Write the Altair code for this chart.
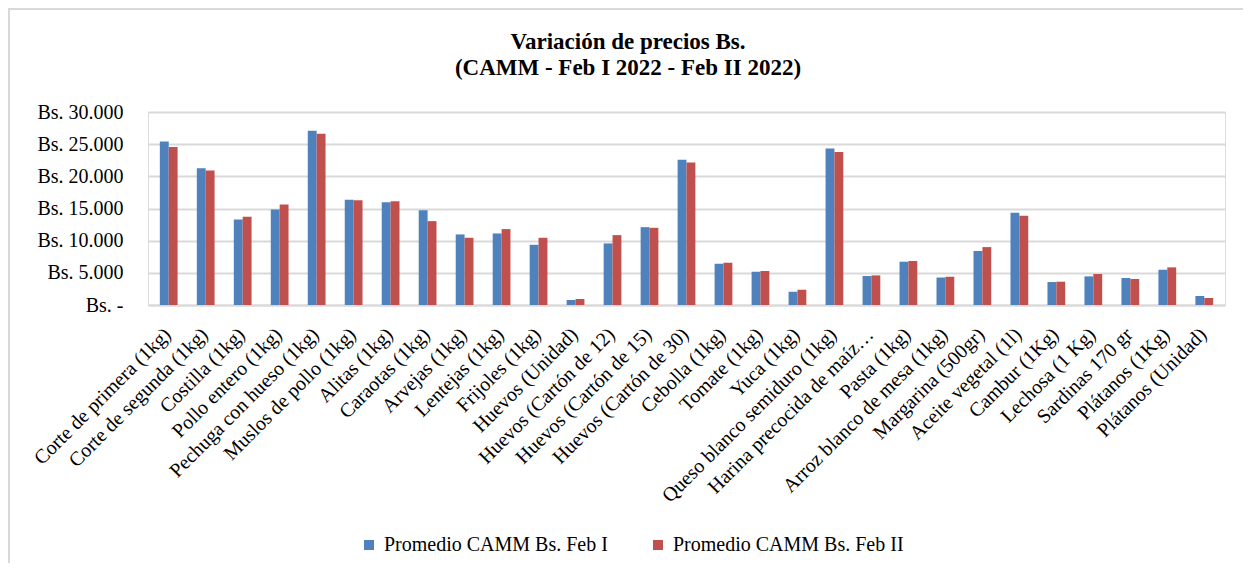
import altair as alt
import pandas as pd

categories = [
    "Corte de primera (1kg)", "Corte de segunda (1kg)", "Costilla (1kg)", "Pollo entero (1kg)",
    "Pechuga con hueso (1kg)", "Muslos de pollo (1kg)", "Alitas (1kg)", "Caraotas (1kg)",
    "Arvejas (1kg)", "Lentejas (1kg)", "Frijoles (1kg)", "Huevos (Unidad)",
    "Huevos (Cartón de 12)", "Huevos (Cartón de 15)", "Huevos (Cartón de 30)", "Cebolla (1kg)",
    "Tomate (1kg)", "Yuca (1kg)", "Queso blanco semiduro (1kg)", "Harina precocida de maíz…",
    "Pasta (1kg)", "Arroz blanco de mesa (1kg)", "Margarina (500gr)", "Aceite vegetal (1l)",
    "Cambur (1Kg)", "Lechosa (1 Kg)", "Sardinas 170 gr", "Plátanos (1Kg)", "Plátanos (Unidad)",
]
feb_i = [25400, 21260, 13300, 14850, 27100, 16350, 15980, 14740,
         10970, 11120, 9360, 780, 9570, 12100, 22560, 6410,
         5170, 2070, 24310, 4500, 6730, 4290, 8380, 14330,
         3570, 4450, 4190, 5480, 1400]
feb_ii = [24570, 20900, 13700, 15620, 26600, 16300, 16140, 13040,
          10450, 11800, 10450, 930, 10860, 12000, 22140, 6570,
          5280, 2380, 23800, 4600, 6830, 4400, 9000, 13860,
          3620, 4810, 4040, 5850, 1090]
series = ["Promedio CAMM Bs. Feb I", "Promedio CAMM Bs. Feb II"]
colors = ["#4F81BD", "#C0504D"]

rows = []
for c, a, b in zip(categories, feb_i, feb_ii):
    rows.append({"Producto": c, "Serie": series[0], "Valor": a})
    rows.append({"Producto": c, "Serie": series[1], "Valor": b})
df = pd.DataFrame(rows)

FONT = "Liberation Serif"

bars = alt.Chart(df).mark_bar().encode(
    x=alt.X("Producto:N", sort=categories, title=None,
            scale=alt.Scale(paddingInner=0.52, paddingOuter=0.32),
            axis=alt.Axis(labelAngle=315, labelFontSize=20, labelFont=FONT, labelColor="#000000",
                          ticks=False, domainColor="#D9D9D9", domainWidth=2, labelPadding=19,
                          labelOffset=-8, labelLimit=400, grid=False)),
    xOffset=alt.XOffset("Serie:N", sort=series),
    y=alt.Y("Valor:Q", title=None,
            scale=alt.Scale(domain=[0, 30000]),
            axis=alt.Axis(values=[0, 5000, 10000, 15000, 20000, 25000, 30000],
                          labelExpr="datum.value == 0 ? 'Bs. -' : 'Bs. ' + format(datum.value/1000, '.3f')",
                          labelFontSize=20, labelFont=FONT, labelColor="#000000",
                          ticks=False, domain=False, gridColor="#D9D9D9", gridWidth=2,
                          labelPadding=25)),
    color=alt.Color("Serie:N", sort=series, scale=alt.Scale(domain=series, range=colors),
                    legend=alt.Legend(title=None, orient="none", direction="horizontal",
                                      legendX=211, legendY=423,
                                      labelFont=FONT, labelFontSize=20, labelColor="#000000",
                                      symbolType="square", symbolSize=100, symbolStrokeWidth=0,
                                      columnPadding=40, labelLimit=400, labelOffset=5)),
)

frame_src = alt.Data(values=[{"k": 1}])
frame = alt.Chart(frame_src).mark_rect(fillOpacity=0, stroke="#D9D9D9", strokeWidth=2, clip=False).encode(
    x=alt.value(-139), x2=alt.value(1099), y=alt.value(-103), y2=alt.value(480))

chart = alt.layer(frame, bars).properties(
    width=1077, height=193,
    title=alt.Title(["Variación de precios Bs.", "(CAMM - Feb I 2022 - Feb II 2022)"],
                    font=FONT, fontSize=23, fontWeight="bold", color="#000000",
                    anchor="middle", frame="bounds", lineHeight=26, offset=-72),
    autosize=alt.AutoSizeParams(type="none"),
    padding={"left": 140, "top": 104, "right": 18, "bottom": 258},
).configure_view(stroke=None).configure(background="white")

chart.save("out.html", embed_options={"renderer": "svg", "actions": False})
